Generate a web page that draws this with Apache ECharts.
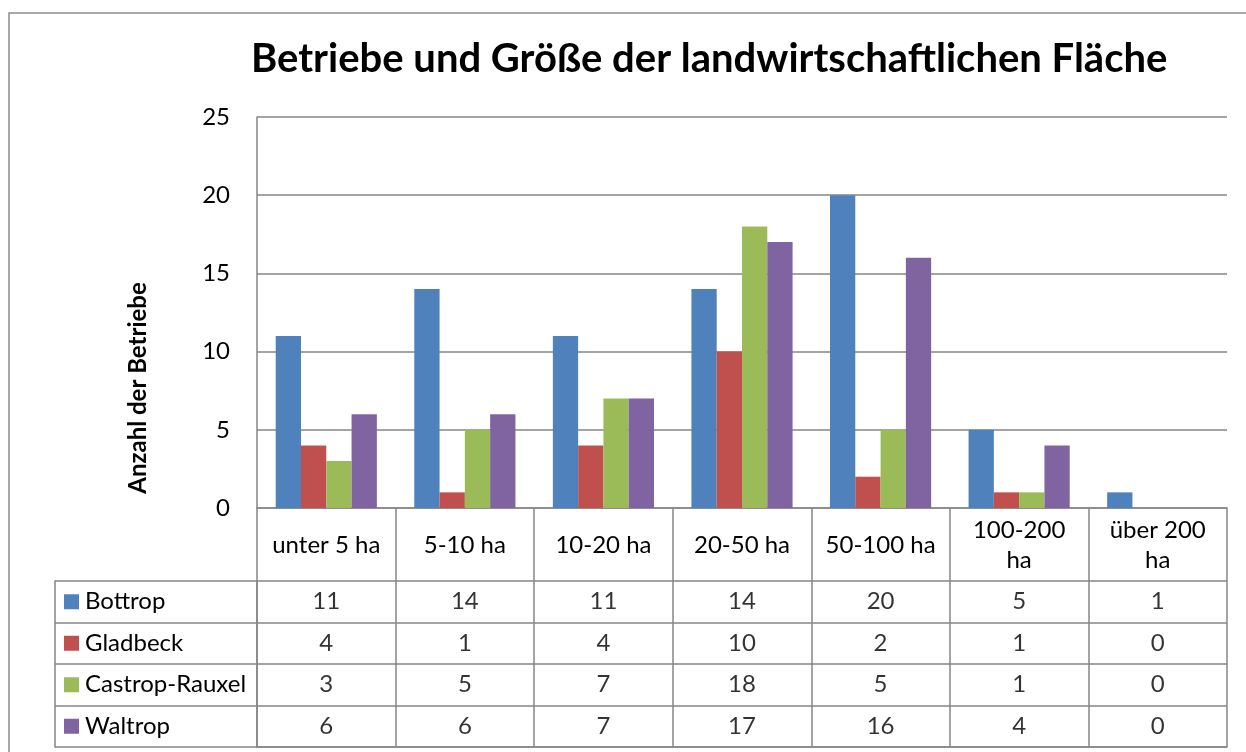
<!DOCTYPE html>
<html>
<head>
<meta charset="utf-8">
<title>Betriebe und Größe der landwirtschaftlichen Fläche</title>
<script src="https://cdn.jsdelivr.net/npm/echarts/dist/echarts.min.js"></script>
<style>
  html, body { margin: 0; padding: 0; background: #fff; }
  #chart { width: 1246px; height: 752px; }
</style>
</head>
<body>
<div id="chart"></div>
<script>
// Größenklassen (x-Achse / Tabellenkopf)
var categories = ['unter 5 ha', '5-10 ha', '10-20 ha', '20-50 ha', '50-100 ha', '100-200\nha', 'über 200\nha']
var seriesNames = ['Bottrop', 'Gladbeck', 'Castrop-Rauxel', 'Waltrop']
var bottrop = [11, 14, 11, 14, 20, 5, 1]
var gladbeck = [4, 1, 4, 10, 2, 1, 0]
var castropRauxel = [3, 5, 7, 18, 5, 1, 0]
var waltrop = [6, 6, 7, 17, 16, 4, 0]
var yTicks = [0, 5, 10, 15, 20, 25]

var values = [bottrop, gladbeck, castropRauxel, waltrop]
var colors = ['#4F81BD', '#C0504D', '#9BBB59', '#8064A2']
var lineColor = '#868686'
var font = 'Lato, "Open Sans", sans-serif'
var fs = 24

// Zellen der Datentabelle: [Spalte, Zeile, Wert]
var tableCells = []
values.forEach(function (row, r) {
  row.forEach(function (v, c) {
    tableCells.push([c, r, v])
  })
})

var legendRich = {}
colors.forEach(function (c, i) {
  legendRich['sq' + i] = { width: 15, height: 15, backgroundColor: c }
  legendRich['t' + i] = { fontSize: fs, fontFamily: font, color: '#000', padding: [0, 0, 0, 6] }
})

var myChart = echarts.init(document.getElementById('chart'))
myChart.setOption({
  animation: false,
  textStyle: { fontFamily: font },
  title: {
    text: 'Betriebe und Größe der landwirtschaftlichen Fläche',
    left: 246,
    top: 34,
    textStyle: { fontSize: 40, fontWeight: 'bold', color: '#000', fontFamily: font }
  },
  graphic: [
    {
      type: 'rect',
      shape: { x: 9, y: 13, width: 1300, height: 800 },
      style: { fill: 'none', stroke: '#8c8c8c', lineWidth: 1.5 },
      silent: true
    },
    {
      // Achsentitel
      type: 'text',
      x: 138,
      y: 388,
      rotation: Math.PI / 2,
      silent: true,
      style: {
        text: 'Anzahl der Betriebe',
        fontSize: 24,
        fontWeight: 'bold',
        fontFamily: font,
        fill: '#000',
        align: 'center',
        verticalAlign: 'middle'
      }
    }
  ],
  grid: [
    { left: 257, right: 19, top: 117, height: 391 },
    { left: 257, right: 19, top: 581, height: 166 }
  ],
  xAxis: [
    {
      type: 'category',
      gridIndex: 0,
      data: categories,
      axisLine: { lineStyle: { color: lineColor, width: 1.5 } },
      axisTick: { show: true, length: 73, interval: 0, lineStyle: { color: lineColor, width: 1.5 } },
      axisLabel: {
        interval: 0,
        margin: 37,
        verticalAlign: 'middle',
        lineHeight: 30,
        fontSize: fs,
        color: '#000',
        fontFamily: font
      }
    },
    {
      type: 'category',
      gridIndex: 1,
      data: categories,
      axisLine: { show: true, lineStyle: { color: lineColor, width: 1.5 } },
      axisTick: { show: false },
      axisLabel: { show: false },
      splitLine: { show: true, interval: 0, lineStyle: { color: lineColor, width: 1.5 } }
    }
  ],
  yAxis: [
    {
      type: 'value',
      gridIndex: 0,
      min: yTicks[0],
      max: yTicks[yTicks.length - 1],
      interval: 5,
      axisLine: { show: true, lineStyle: { color: lineColor, width: 1.5 } },
      axisTick: { show: false },
      axisLabel: { fontSize: fs, color: '#000', margin: 27, fontFamily: font },
      splitLine: { lineStyle: { color: lineColor, width: 1.5 } }
    },
    {
      // Legendenspalte der Tabelle
      type: 'category',
      gridIndex: 1,
      inverse: true,
      data: seriesNames,
      axisLine: { show: true, lineStyle: { color: lineColor, width: 1.5 } },
      axisTick: { show: true, length: 202, interval: 0, lineStyle: { color: lineColor, width: 1.5 } },
      axisLabel: {
        interval: 0,
        align: 'left',
        margin: 193,
        formatter: function (name, i) {
          return '{sq' + i + '|}{t' + i + '|' + name + '}'
        },
        rich: legendRich
      },
      splitLine: { show: true, interval: 0, lineStyle: { color: lineColor, width: 1.5 } }
    },
    {
      // linker Rand der Legendenspalte
      type: 'category',
      gridIndex: 1,
      inverse: true,
      data: seriesNames,
      position: 'left',
      offset: 202,
      axisLine: { show: true, lineStyle: { color: lineColor, width: 1.5 } },
      axisTick: { show: false },
      axisLabel: { show: false }
    }
  ],
  series: seriesNames.map(function (name, i) {
    return {
      name: name,
      type: 'bar',
      xAxisIndex: 0,
      yAxisIndex: 0,
      data: values[i],
      barGap: '0%',
      barCategoryGap: '27%',
      itemStyle: { color: colors[i] }
    }
  }).concat([
    {
      type: 'scatter',
      xAxisIndex: 1,
      yAxisIndex: 1,
      data: tableCells,
      symbolSize: 1,
      silent: true,
      itemStyle: { color: 'rgba(0,0,0,0)' },
      label: {
        show: true,
        position: 'inside',
        fontSize: fs,
        color: '#000',
        fontFamily: font,
        formatter: function (p) { return String(p.value[2]) }
      }
    }
  ])
})
</script>
</body>
</html>
